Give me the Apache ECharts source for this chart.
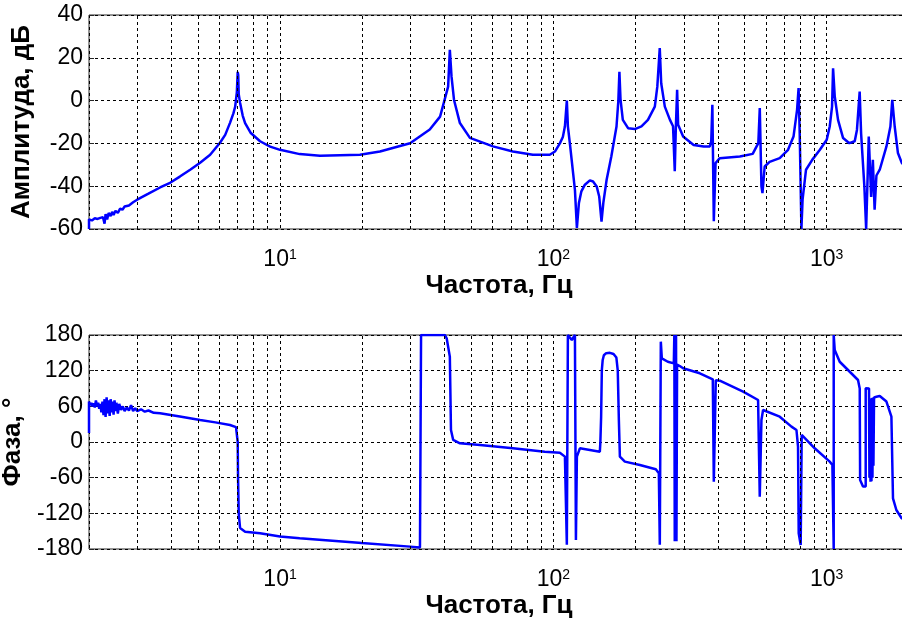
<!DOCTYPE html>
<html><head><meta charset="utf-8">
<script src="https://cdn.jsdelivr.net/npm/echarts@6/dist/echarts.min.js"></script>
<style>html,body{margin:0;padding:0;background:#fff}#c{width:902px;height:623px}</style>
</head><body><div id="c"></div>
<script>
// Amplitude (dB) vs frequency (Hz)
const ampFreq = [
  2.0, 2.0, 2.05, 2.1, 2.15, 2.2, 2.25, 2.28, 2.3, 2.33,
  2.36, 2.4, 2.43, 2.46, 2.5, 2.55, 2.6, 2.65, 2.7, 2.8,
  2.9, 3.0, 3.3, 3.64, 3.96, 4.3, 4.69, 5.1, 5.55, 6.03,
  6.3, 6.56, 6.75, 6.85, 6.95, 7.0, 7.03, 7.06, 7.14, 7.3,
  7.45, 7.8, 8.45, 9.2, 10, 11.8, 14, 19.6, 23.2, 29.9,
  35.3, 38.5, 40.1, 41.2, 41.8, 42.4, 43.3, 45.5, 49.5, 60.1,
  71.1, 84.1, 97.0, 101.3, 105.6, 108.3, 110.2, 112.0, 113.0, 114.9,
  119.9, 121.9, 124.0, 126.6, 130.4, 136.0, 139.7, 144, 147.1, 150,
  152.3, 156.6, 162.9, 170.2, 172.8, 174.4, 176, 179.5, 187.6, 198.6,
  210, 221.8, 235, 240, 245, 248, 255.7, 267, 274, 278,
  280.5, 283.6, 286, 298.3, 325.9, 354.7, 373.4, 378, 381.6, 386.3,
  392, 406.3, 481, 536, 562, 569, 577, 582, 593, 618,
  673, 722, 756, 779, 789, 796.5, 808, 816, 840, 885,
  944, 1000, 1025.6, 1046, 1055, 1070, 1100, 1148, 1210, 1266,
  1290, 1320, 1336, 1373, 1394, 1425, 1454, 1475, 1497, 1520,
  1563, 1654, 1710, 1737, 1773, 1822, 1880, 2000
];
const ampDb = [
  -60, -55.5, -56, -55, -55.3, -54.8, -54.5, -57.5, -53, -55.5,
  -52.5, -54, -52, -53.5, -51.5, -52.5, -50.5, -51, -49.5, -49,
  -47.5, -46.3, -43.5, -40.6, -38.4, -35.5, -32.3, -29, -25.3, -19.7,
  -16, -10.4, -6, -2.9, 4, 13.4, 12, 3, -1, -7,
  -10.5, -15, -19, -21.5, -23, -25, -25.8, -25.3, -23.8, -19.9,
  -13.5, -7.5, 0.9, 6.5, 23.7, 11.2, 0.3, -10.5, -17.4, -21.4,
  -23.8, -25.3, -25.3, -23.8, -20, -17, -12, 0, -12, -20,
  -41.7, -59.5, -47.8, -42.4, -39.3, -37.3, -37.8, -40.1, -44.8, -56.6,
  -47.8, -37, -26.1, -12.1, -0.3, 13.5, 0.7, -9, -12.9, -13.3,
  -12, -9, -2.8, 6.5, 24.6, 8.1, -2.8, -9, -12, -33,
  -13, 5, -11.3, -16.8, -20.7, -21.4, -21.4, -19.1, -2, -56.4,
  -29.2, -26.9, -26.1, -24.9, -19.9, -3.5, -40.1, -43.2, -30.8, -28.6,
  -26.9, -23, -16.8, -4.3, 5.9, -15.3, -60, -46.3, -32.3, -27.7,
  -23, -18.3, -12.1, -2.8, 15.1, 1.9, -9, -17.5, -19.9, -19,
  -13.7, 4.2, -15.3, -40, -60, -16.8, -45, -27.7, -51, -35,
  -32.3, -21.4, -12.1, 0.3, -12.1, -24.5, -29, -33
];

// Phase (degrees) vs frequency (Hz)
const phaseFreq = [
  2.0, 2.0, 2.02, 2.04, 2.06, 2.08, 2.1, 2.12, 2.14, 2.16,
  2.18, 2.2, 2.22, 2.24, 2.26, 2.28, 2.3, 2.32, 2.34, 2.36,
  2.38, 2.4, 2.42, 2.44, 2.46, 2.48, 2.5, 2.52, 2.55, 2.58,
  2.62, 2.66, 2.7, 2.75, 2.8, 2.85, 2.9, 2.95, 3.0, 3.1,
  3.2, 3.3, 3.45, 3.64, 4.3, 5.1, 5.8, 6.56, 6.9, 6.96,
  7.0, 7.02, 7.06, 7.14, 7.45, 8.45, 10, 11.8, 19.9, 29.9,
  32.5, 32.8, 40.1, 40.7, 41.8, 42.2, 43, 45.5, 53.9, 71.1,
  93, 105.6, 110.2, 112.0, 113.0, 116.8, 119.9, 120.9, 121.9, 125.0,
  136.0, 147.9, 148.5, 149.5, 150.4, 151.5, 153, 156, 161, 166,
  170, 172, 173.6, 175.1, 182.6, 207.2, 237.0, 243.1, 245.1, 247.2,
  249.3, 262.2, 275.8, 277, 278, 279, 280, 281, 282, 283.5,
  290, 298.3, 343.3, 383.0, 386.3, 392.8, 406.3, 494.5, 560.9, 568.9,
  577, 585, 593.4, 673.2, 743, 775, 785.3, 789.8, 803.1, 810,
  903.6, 1025.6, 1049, 1060.7, 1060.7, 1069.7, 1115.6, 1301.6, 1320.5, 1325,
  1357.6, 1388.7, 1388.7, 1428, 1433, 1440, 1446, 1452, 1458, 1464,
  1470, 1476, 1482, 1490, 1519.7, 1563, 1653.6, 1724.5, 1747.6, 1798,
  1880, 2000
];
const phaseDeg = [
  15, 68, 62, 66, 60, 65, 58, 70, 60, 66,
  56, 64, 50, 68, 45, 72, 42, 75, 48, 70,
  44, 72, 50, 68, 46, 70, 52, 66, 48, 64,
  54, 60, 52, 58, 53, 62, 52, 57, 52, 55,
  51, 53, 49, 48.3, 43, 37, 33, 28.6, 25, 23.6,
  0, -60, -120, -144.6, -150.8, -153.6, -159, -162, -170, -176,
  -177.6, 180, 180, 174.4, 143.6, 20.2, 3.4, -2.2, -5, -10.6,
  -16.3, -18, -24.6, -173, 180, 171.6, 180, -165, -24.6, -10.6,
  -13.4, -16.3, -2, 42, 121, 138, 146, 149.5, 150, 148,
  142, 120, 37, -24.6, -33, -38.6, -45.9, -52.6, -173, 168.8,
  140.8, 135, 132.3, 180, -167, 180, -167, 180, -167, 130,
  127.8, 124, 115.6, 105.5, -66.7, 104, 103.2, 84.6, 70.7, -92,
  37, 53.8, 56.7, 42.6, 25.8, 20.2, -7.9, -153.6, -173.2, 11.8,
  -10.6, -33, -38.6, -180, 180, 154.8, 135, 104.3, 90, -64,
  -75, -75, 90.3, 90, -60, 73, -66.7, 73, -66, 74,
  -60, 75, -40, 75, 76, 77.4, 68, 42.6, -94.7, -114.4,
  -128.4, -130
];

// Minor grid lines (log axis)
const minorGrid = [3, 4, 5, 6, 7, 8, 9, 20, 30, 40, 50, 60, 70, 80, 90, 200, 300, 400, 500, 600, 700, 800, 900];

const FONT = 'Liberation Sans, Arial, sans-serif';
const dash = [3, 3];

function pow10Label(v) {
  const l = Math.log10(v);
  const r = Math.round(l);
  if (Math.abs(l - r) > 1e-6) return '';
  return '{b|10}{s|' + r + '}';
}

function xAxisCfg(idx) {
  return {
    type: 'log', logBase: 10, min: 2, max: 2000, gridIndex: idx,
    axisLine: { show: false },
    axisTick: { show: true, inside: true, length: 5, lineStyle: { color: '#262626' } },
    splitLine: { show: true, lineStyle: { color: '#000', type: dash, width: 1 } },
    axisLabel: {
      formatter: pow10Label, margin: 19, showMinLabel: false, showMaxLabel: false,
      rich: {
        b: { fontSize: 23, fontFamily: FONT, color: '#000' },
        s: { fontSize: 14, fontFamily: FONT, color: '#000', verticalAlign: 'top' }
      }
    },
    name: 'Частота, Гц', nameLocation: 'middle', nameGap: 44,
    nameTextStyle: { fontWeight: 'bold', fontSize: 26, fontFamily: FONT, color: '#000' }
  };
}

function yAxisCfg(idx, min, max, interval, name, gap) {
  return {
    type: 'value', gridIndex: idx, min: min, max: max, interval: interval,
    axisLine: { show: false },
    axisTick: { show: true, inside: true, length: 5, lineStyle: { color: '#262626' } },
    splitLine: { show: true, lineStyle: { color: '#000', type: dash, width: 1 } },
    axisLabel: { fontSize: 23, fontFamily: FONT, color: '#000', margin: 6 },
    name: name, nameLocation: 'middle', nameRotate: 90, nameGap: gap,
    nameTextStyle: { fontWeight: 'bold', fontSize: 26, fontFamily: FONT, color: '#000' }
  };
}

function gridLinesSeries(idx) {
  return {
    type: 'line', xAxisIndex: idx, yAxisIndex: idx, data: [], z: 1, silent: true,
    markLine: {
      silent: true, symbol: ['none', 'none'], label: { show: false }, animation: false,
      lineStyle: { color: '#000', type: dash, width: 1 },
      emphasis: { disabled: true },
      data: minorGrid.map(v => ({ xAxis: v }))
    }
  };
}

const gridBase = { left: 89, width: 820, height: 214, show: true, borderColor: '#262626', borderWidth: 1,
  backgroundColor: 'transparent', containLabel: false, outerBoundsMode: 'none' };

const chart = echarts.init(document.getElementById('c'), null, { renderer: 'canvas' });
chart.setOption({
  animation: false,
  backgroundColor: '#fff',
  grid: [
    Object.assign({ top: 15 }, gridBase),
    Object.assign({ top: 335 }, gridBase)
  ],
  xAxis: [xAxisCfg(0), xAxisCfg(1)],
  yAxis: [
    yAxisCfg(0, -60, 40, 20, 'Амплитуда, дБ', 54),
    yAxisCfg(1, -180, 180, 60, 'Фаза, °', 62)
  ],
  series: [
    gridLinesSeries(0),
    gridLinesSeries(1),
    {
      type: 'line', xAxisIndex: 0, yAxisIndex: 0, z: 3, symbol: 'none', showSymbol: false, clip: true,
      lineStyle: { color: '#0000ff', width: 2.5 },
      data: ampFreq.map((f, i) => [f, ampDb[i]])
    },
    {
      type: 'line', xAxisIndex: 1, yAxisIndex: 1, z: 3, symbol: 'none', showSymbol: false, clip: true,
      lineStyle: { color: '#0000ff', width: 2.5 },
      data: phaseFreq.map((f, i) => [f, phaseDeg[i]])
    }
  ]
});
</script>
</body></html>
